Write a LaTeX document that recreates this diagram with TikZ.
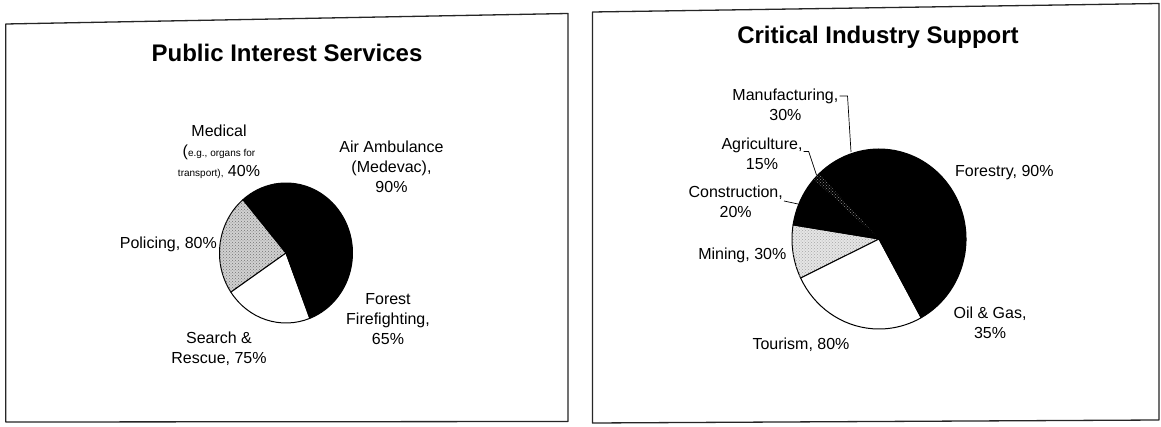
\documentclass[tikz,border=0pt]{standalone}
\usepackage{fontspec}
\setmainfont{Liberation Sans}
\usetikzlibrary{calc,patterns}
\newcommand\myslice[7]{%
  \filldraw[slice,#7] (#1,#2) -- ++(#5:#3pt and #4pt)
    arc[start angle=#5, end angle=#6, x radius=#3pt, y radius=#4pt] -- cycle;}
\begin{document}
\begin{tikzpicture}[x=1pt,y=-1pt,
  lbl/.style={font=\fontsize{16}{20}\selectfont, align=center, inner sep=1pt},
  ttl/.style={font=\fontsize{24}{28}\selectfont\bfseries, inner sep=0pt, anchor=base},
  frame/.style={draw=black!85, line width=1.3pt, line join=round},
  slice/.style={draw=black, line width=1pt, line join=round},
  blackfill/.style={fill=black},
  whitefill/.style={fill=white},
  graydots/.style={fill=black!18, postaction={pattern=crosshatch dots, pattern color=black!55}},
  lightdots/.style={fill=black!10, postaction={pattern=crosshatch dots, pattern color=black!35}},
  leader/.style={draw=black, line width=0.7pt}]
\useasboundingbox (0,0) rectangle (1161,427);
\fill[white] (0,0) rectangle (1161,427);

% panel frames
\draw[frame] (5.7,24) -- (568,13.5) -- (568,421.5) -- (5.7,422) -- cycle;
\draw[frame] (592.5,12) -- (1159,3.5) -- (1159,420) -- (592.5,423) -- cycle;

% titles
\node[ttl] (t1) at (287,61.5) {Public Interest Services};
\node[ttl] (t2) at (878,43.3) {Critical Industry Support};

% left pie
\myslice{286}{253}{66.5}{70}{130.3}{214}{graydots}
\myslice{286}{253}{66.5}{70}{214}{291}{whitefill}
\myslice{286}{253}{66.5}{70}{291}{350}{blackfill}
\myslice{286}{253}{66.5}{70}{350}{460}{blackfill}
\myslice{286}{253}{66.5}{70}{100}{130.3}{blackfill}

% right pie
\myslice{879}{239}{87}{90}{171}{205.7}{lightdots}
\myslice{879}{239}{87}{90}{205.7}{299}{whitefill}
\myslice{879}{239}{87}{90}{299}{350}{blackfill}
\myslice{879}{239}{87}{90}{350}{440}{blackfill}
\myslice{879}{239}{87}{90}{80}{133.5}{blackfill}
\myslice{879}{239}{87}{90}{138.5}{171}{blackfill}
\fill[black, postaction={pattern=crosshatch dots, pattern color=black!45}] (879,239) -- ++(133.5:87pt and 90pt)
    arc[start angle=133.5, end angle=138.5, x radius=87pt, y radius=90pt] -- cycle;
\draw[black, line width=1pt] (879,239) ++(133:87pt and 90pt)
    arc[start angle=133, end angle=139, x radius=87pt, y radius=90pt];

% left labels
\node[lbl] (med) at (219,152) {Medical\\(\fontsize{10}{12}\selectfont e.g., organs for\\{\fontsize{10}{12}\selectfont transport),} 40\%};
\node[lbl] (air) at (391.5,167) {Air Ambulance\\(Medevac),\\90\%};
\node[lbl, anchor=east] (pol) at (218,244) {Policing, 80\%};
\node[lbl] (fire) at (388,319) {Forest\\Firefighting,\\65\%};
\node[lbl] (sar) at (219,349) {Search \&\\Rescue, 75\%};

% right labels
\node[lbl] (manu) at (785.4,104.5) {Manufacturing,\\30\%};
\node[lbl] (agri) at (762,153.7) {Agriculture,\\15\%};
\node[lbl] (cons) at (735.7,202) {Construction,\\20\%};
\node[lbl, anchor=east] (min) at (787.5,255) {Mining, 30\%};
\node[lbl, anchor=west] (for) at (954,173) {Forestry, 90\%};
\node[lbl] (oil) at (990,323) {Oil \& Gas,\\35\%};
\node[lbl] (tour) at (801,345) {Tourism, 80\%};

% leader lines
\coordinate (mrim) at (851,152);
\coordinate (arim) at (816.5,175);
\coordinate (crim) at (798,204);
\draw[leader] (manu.east |- 0,96) -- ++(8,0) -- (mrim);
\draw[leader] (agri.east |- 0,151.5) -- ++(5,0) -- (arim);
\draw[leader] (cons.east |- 0,201) -- (crim);
\end{tikzpicture}
\end{document}
